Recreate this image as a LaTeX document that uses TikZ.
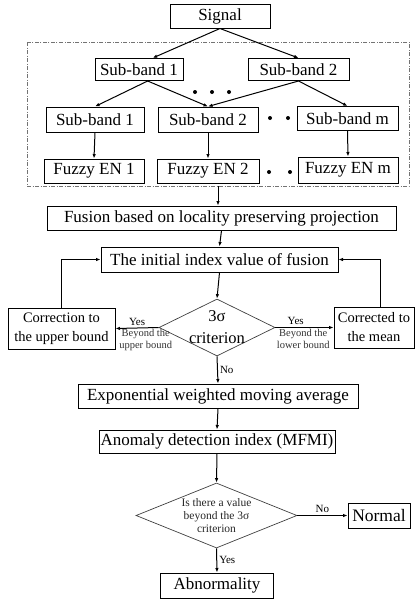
\documentclass[tikz,border=0pt]{standalone}
\usepackage{fontspec}
\setmainfont{Liberation Serif}
\usetikzlibrary{shapes.geometric,arrows.meta}

\tikzset{
 box/.style={draw,line width=1pt,inner sep=0pt,font=\fontsize{17}{19}\selectfont},
 sidebox/.style={box,align=center,font=\fontsize{14.5}{19}\selectfont},
 decision/.style={diamond,draw,black!75,line width=0.7pt,inner sep=0pt},
 flow/.style={line width=1pt,-{Latex[length=4.5pt,width=3.5pt]}},
 small/.style={font=\fontsize{10.5}{12}\selectfont,align=center,inner sep=1pt,black!80},
 tag/.style={font=\fontsize{11}{12}\selectfont,inner sep=2pt},
}

\begin{document}
\begin{tikzpicture}[x=1pt,y=-1pt]
 \useasboundingbox (0,0) rectangle (418,600);
 % frame round the sub-bands
 \draw[black!55,line width=0.5pt,dash pattern=on 4pt off 1.5pt on 1pt off 1.5pt] (27,42) rectangle (409,186);
 \coordinate (dbot) at (218,186);

 \node[box,minimum width=100pt,minimum height=24pt] (signal) at (220,16) {Signal};
 \node[box,minimum width=88pt,minimum height=22pt] (sb1a) at (139,69.5) {Sub-band 1};
 \node[box,minimum width=101pt,minimum height=22pt] (sb2a) at (298.5,69.5) {Sub-band 2};
 \node[box,minimum width=98pt,minimum height=25pt] (sb1b) at (95,119.5) {Sub-band 1};
 \node[box,minimum width=100pt,minimum height=25pt] (sb2b) at (208,119.5) {Sub-band 2};
 \node[box,minimum width=101pt,minimum height=24pt] (sbmb) at (347.5,118.5) {Sub-band m};
 \node[box,minimum width=100pt,minimum height=24pt] (fz1) at (94,171) {Fuzzy EN 1};
 \node[box,minimum width=102pt,minimum height=24pt] (fz2) at (208,171) {Fuzzy EN 2};
 \node[box,minimum width=100pt,minimum height=26pt] (fzm) at (348,170) {Fuzzy EN m};
 \foreach \x in {195,212,229} \fill (\x,92) circle (2pt);
 \foreach \x in {270,288} \fill (\x,118) circle (2pt);
 \foreach \x in {269,290} \fill (\x,172) circle (2pt);

 \node[box,minimum width=349pt,minimum height=24pt] (fusion) at (221.5,218) {Fusion based on locality preserving projection};
 \node[box,minimum width=237pt,minimum height=25pt] (init) at (219.5,259.5) {The initial index value of fusion};
 \node[decision,minimum width=116pt,minimum height=57pt] (crit) at (217,327.5) {};
 \node[align=center,inner sep=0pt,font=\fontsize{16.5}{22}\selectfont] (crittext) at (crit) {3σ\\criterion};
 \node[sidebox,minimum width=107pt,minimum height=41pt] (corrU) at (61.5,328.5) {Correction to\\the upper bound};
 \node[sidebox,minimum width=80pt,minimum height=41pt] (corrM) at (374,327.5) {Corrected to\\the mean};
 \node[box,minimum width=280pt,minimum height=24pt] (ewma) at (218,396) {Exponential weighted moving average};
 \node[box,minimum width=236pt,minimum height=23pt] (anom) at (217,441.5) {Anomaly detection index (MFMI)};
 \node[decision,minimum width=161pt,minimum height=65pt] (dia2) at (216.5,515.5) {};
 \node[align=center,inner sep=0pt,font=\fontsize{11.5}{13}\selectfont,black!85] (dia2text) at (dia2) {Is there a value\\beyond the 3σ\\criterion};
 \node[box,minimum width=62pt,minimum height=25pt,font=\fontsize{17.5}{19}\selectfont] (normal) at (379,515.5) {Normal};
 \node[box,minimum width=113pt,minimum height=25pt] (abnorm) at (217,585.5) {Abnormality};

 % connectors
 \draw[flow] (signal.south) -- (sb1a.40);
 \draw[flow] (signal.south) -- (sb2a.north);
 \draw[flow] (sb1a.-53) -- (sb1b.north);
 \draw[flow] (sb1a.-53) -- (sb2b.north);
 \draw[flow] (sb2a.south) -- (sb2b.north);
 \draw[flow] (sb2a.south) -- (sbmb.north);
 \draw[flow] (sb1b.south) -- (fz1.north);
 \draw[flow] (sb2b.south) -- (fz2.north);
 \draw[flow] (sbmb.south) -- (fzm.north);
 \draw[flow] (dbot) -- (dbot |- fusion.north);
 \draw[flow] (fusion.south) -- (init.north);
 \draw[flow] (init.south) -- (crit.north);
 \draw[flow] (crit.west) -- node[tag,above]{Yes} node[small,below,pos=0.3]{Beyond the\\upper bound} (corrU.east);
 \draw[flow] (crit.east) -- node[tag,above,pos=0.35]{Yes} node[small,below,pos=0.48]{Beyond the\\lower bound} (corrM.west);
 \draw[flow] (corrU.north) |- (init.west);
 \draw[flow] (corrM.73) |- (init.east);
 \draw[flow] (crit.south) -- node[tag,right]{No} (ewma.north);
 \draw[flow] (ewma.south) -- (anom.north);
 \draw[flow] (anom.south) -- (dia2.north);
 \draw[flow] (dia2.east) -- node[tag,above]{No} (normal.west);
 \draw[flow] (dia2.south) -- node[tag,right]{Yes} (abnorm.north);
\end{tikzpicture}
\end{document}
